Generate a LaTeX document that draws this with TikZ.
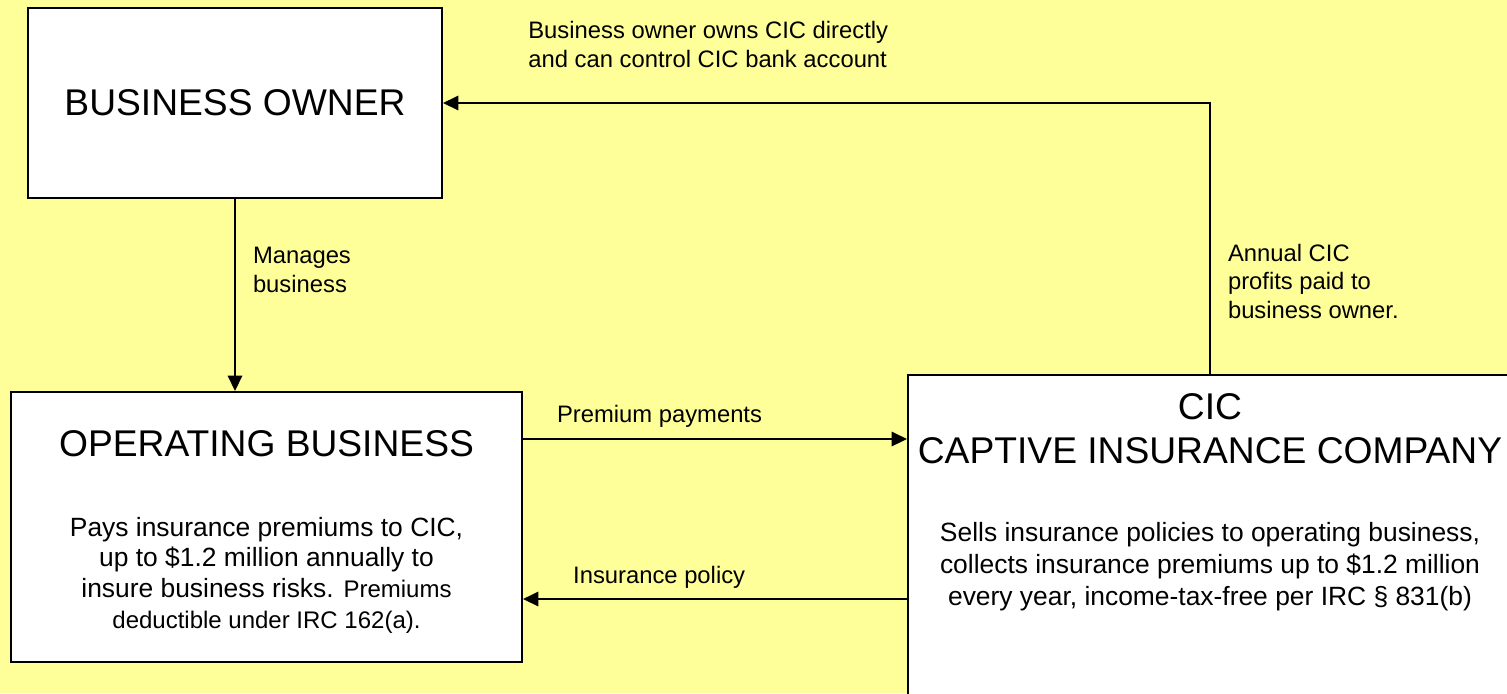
\documentclass[tikz,border=0pt]{standalone}
\usepackage{fontspec}
\setmainfont{Liberation Sans}
\usepackage{xcolor}
\usetikzlibrary{positioning, arrows.meta}
\definecolor{pageyellow}{HTML}{FFFF99}

\begin{document}
\begin{tikzpicture}[
    node distance=96pt,
    box/.style={rectangle, draw=black, line width=1.2pt, fill=white, inner sep=0pt},
    head/.style={inner sep=0pt, align=center, font=\fontsize{18.6}{22}\selectfont},
    body/.style={inner sep=0pt, align=center, font=\fontsize{13.2}{15.3}\selectfont},
    lbl/.style={inner sep=0pt, align=left, font=\fontsize{11.9}{14.3}\selectfont},
    arrow/.style={-{Triangle[length=7.7pt, width=7.2pt]}, line width=1pt}
]

    % Background
    \path[use as bounding box, fill=pageyellow] (0,0) rectangle (753.5pt,-346.5pt);

    % Boxes
    \node[box, head, minimum width=206.8pt, minimum height=94.8pt] (owner) at (117.5pt,-51.5pt) {BUSINESS OWNER};
    \node[box, below=of owner, xshift=15.75pt, minimum width=255.3pt, minimum height=134.8pt] (opbiz) {};
    \node[box, right=192pt of opbiz.north east, anchor=north west, yshift=8.5pt, minimum width=301.8pt, minimum height=175pt] (cic) {};

    % Box texts
    \node[head, below=19.5pt of opbiz.north] (optitle) {OPERATING BUSINESS};
    \node[body, below=62.9pt of opbiz.north] (optext) {Pays insurance premiums to CIC,\\up to \$1.2 million annually to\\insure business risks. {\fontsize{12}{15.3}\selectfont Premiums}\\{\fontsize{12}{15.3}\selectfont deductible under IRC 162(a).}};
    \node[head, below=9.5pt of cic.north] (cictitle) {CIC\\CAPTIVE INSURANCE COMPANY};
    \node[body, below=73.9pt of cic.north, font=\fontsize{13.2}{16}\selectfont] (cictext) {Sells insurance policies to operating business,\\collects insurance premiums up to \$1.2 million\\every year, income-tax-free per IRC § 831(b)};

    % Edges
    \draw[arrow] (owner.south) -- (owner.south |- opbiz.north) node[lbl, pos=0.245, anchor=north west, xshift=8.5pt] (managelbl) {Manages\\business};
    \draw[arrow] ([yshift=44pt]opbiz.east) -- ([yshift=44pt]opbiz.east -| cic.west) node[lbl, pos=0.086, anchor=base west, yshift=8.5pt] (premlbl) {Premium payments};
    \draw[arrow] ([yshift=-36pt]opbiz.east -| cic.west) -- ([yshift=-36pt]opbiz.east) node[lbl, pos=0.872, anchor=base west, yshift=8pt] (policylbl) {Insurance policy};

    % Ownership loop back to the owner
    \draw[arrow] (cic.north) |- (owner.east)
        node[lbl, pos=0.945, anchor=south west, yshift=17.35pt] (ownslbl) {Business owner owns CIC directly\\and can control CIC bank account}
        node[lbl, pos=0.1, anchor=south west, xshift=8.5pt] (profitlbl) {Annual CIC\\profits paid to\\business owner.};

\end{tikzpicture}
\end{document}
